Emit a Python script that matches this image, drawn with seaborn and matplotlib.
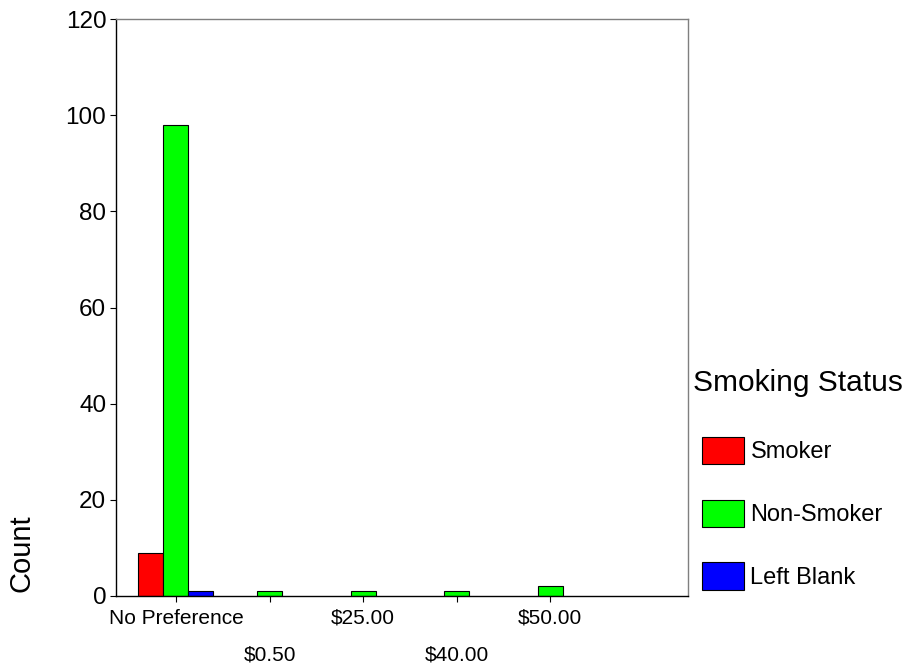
import numpy as np
import matplotlib
matplotlib.use('Agg')
import matplotlib.pyplot as plt
import pandas as pd
import seaborn as sns

# Chart values
categories = ['No Preference', '$0.50', '$25.00', '$40.00', '$50.00']
groups = ['Smoker', 'Non-Smoker', 'Left Blank']
smoker = [9, 0, 0, 0, 0]
non_smoker = [98, 1, 1, 1, 2]
left_blank = [1, 0, 0, 0, 0]
colors = ['#ff0000', '#00ff00', '#0000ff']

# Long-form table for seaborn, drop empty cells so no zero bars get drawn
rows = []
for grp, vals in zip(groups, [smoker, non_smoker, left_blank]):
    for cat, v in zip(categories, vals):
        rows.append({'price': cat, 'status': grp, 'count': v})
df = pd.DataFrame(rows)
df = df[df['count'] > 0]

sns.set_style('white')
plt.rcParams['font.family'] = ['Liberation Sans', 'DejaVu Sans']
plt.rcParams['text.color'] = 'black'
plt.rcParams['xtick.color'] = 'black'
plt.rcParams['ytick.color'] = 'black'

W, H = 912, 671
fig = plt.figure(figsize=(W / 100, H / 100), dpi=100)
ax = fig.add_axes([116 / W, 1 - 596 / H, 572 / W, 577 / H])

sns.barplot(data=df, x='price', y='count', hue='status', order=categories,
            hue_order=groups, palette=colors, saturation=1, edgecolor='black',
            linewidth=0.8, width=0.8, errorbar=None, ax=ax)

ax.set_xlim(-0.64, 5.47)
ax.set_ylim(0, 120)
ax.set_yticks(range(0, 121, 20))
ax.set_xlabel('')
ax.set_ylabel('')

for side in ['left', 'bottom']:
    ax.spines[side].set_color('black')
    ax.spines[side].set_linewidth(1.0)
for side in ['top', 'right']:
    ax.spines[side].set_color('#7f7f7f')
    ax.spines[side].set_linewidth(1.0)

ax.tick_params(axis='both', direction='out', length=4, width=0.8,
               bottom=True, left=True)
ax.tick_params(axis='y', pad=3, labelsize=17.5, colors='black')
ax.tick_params(axis='x', pad=5, labelsize=15, colors='black')
# stagger the price labels on two rows
for i, tick in enumerate(ax.xaxis.get_major_ticks()):
    if i % 2 == 1:
        tick.set_pad(32)

fig.text(22 / W, 1 - 553 / H, 'Count', rotation=90, ha='center', va='center',
         fontsize=21)
fig.text(693 / W, 1 - 383 / H, 'Smoking Status', ha='left', va='center',
         fontsize=21.5)

handles, labels = ax.get_legend_handles_labels()
ax.legend(handles, labels, loc='upper left',
          bbox_to_anchor=(702 / W, 1 - 437 / H), bbox_transform=fig.transFigure,
          frameon=False, fontsize=17, handlelength=1.8, handleheight=1.4,
          handletextpad=0.25, labelspacing=1.5, borderaxespad=0, borderpad=0)

fig.savefig('out.png', dpi=100)
